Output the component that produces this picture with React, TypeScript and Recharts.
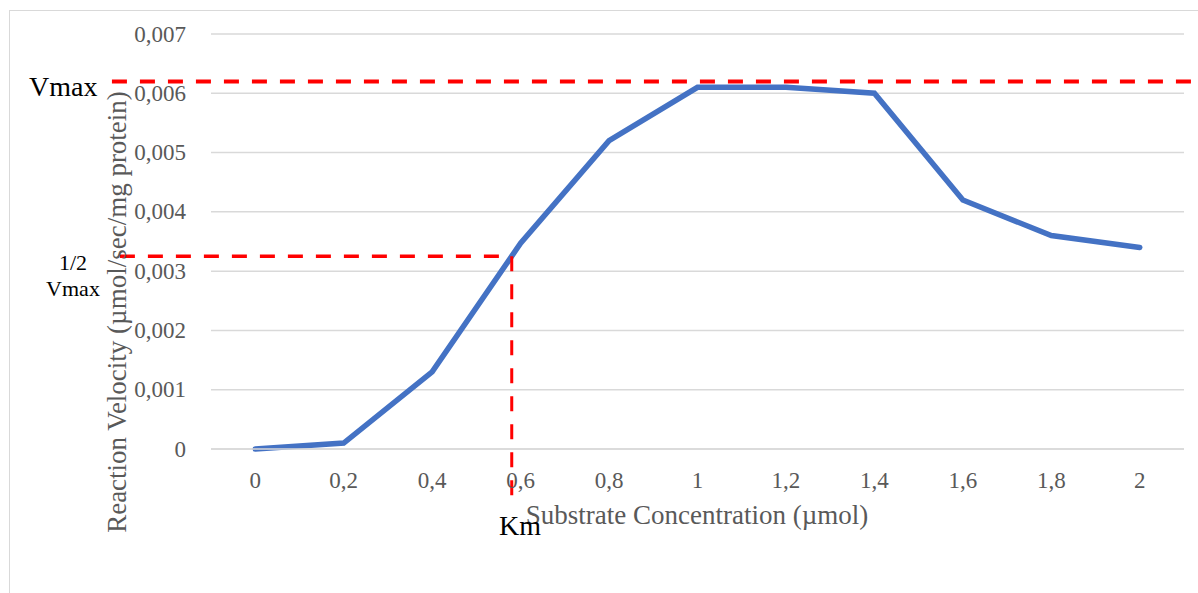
import React from 'react';
import { LineChart, Line, XAxis, YAxis, CartesianGrid, ReferenceLine } from 'recharts';

const concentrations = [0, 0.2, 0.4, 0.6, 0.8, 1, 1.2, 1.4, 1.6, 1.8, 2];
const velocities = [0, 0.0001, 0.0013, 0.00347, 0.0052, 0.0061, 0.0061, 0.006, 0.0042, 0.0036, 0.0034];
const yTicks = [0, 0.001, 0.002, 0.003, 0.004, 0.005, 0.006, 0.007];

// annotation values
const vmax = 0.0062;
const halfVmax = 0.00325;
const km = 0.58;

const data = concentrations.map((x, i) => ({ x, v: velocities[i] }));

const fmt = (n: number) => String(n).replace('.', ',');

const serif = '"Liberation Serif", "Times New Roman", serif';

const XTick = (props: any) => {
  const { x, y, payload } = props;
  return (
    <text x={x} y={y + 29} textAnchor="middle" dominantBaseline="central"
      style={{ fontFamily: serif, fontSize: 23, fill: '#595959' }}>
      {fmt(payload.value)}
    </text>
  );
};

const YTick = (props: any) => {
  const { x, y, payload } = props;
  return (
    <text x={x - 23} y={y} textAnchor="end" dominantBaseline="central"
      style={{ fontFamily: serif, fontSize: 23, fill: '#595959' }}>
      {fmt(payload.value)}
    </text>
  );
};

export default function App() {
  return (
    <div style={{ position: 'absolute', left: 0, top: 0, width: 1198, height: 593, background: '#fff', overflow: 'hidden' }}>
      <div
        style={{
          position: 'absolute', left: 9, top: 10, width: 1300, height: 700,
          borderLeft: '1px solid #d9d9d9', borderTop: '1px solid #d9d9d9',
        }}
      />
      <div style={{ position: 'absolute', left: 0, top: 0 }}>
        <LineChart width={1198} height={593} data={data} margin={{ top: 34, right: 14, left: 131, bottom: 114 }}>
          <CartesianGrid vertical={false} stroke="#d9d9d9" strokeWidth={1.5} />
          <XAxis
            dataKey="x"
            type="number"
            domain={[-0.1, 2.1]}
            ticks={concentrations}
            axisLine={{ stroke: '#d9d9d9', strokeWidth: 1.5 }}
            tickLine={false}
            tickSize={0}
            height={30}
            tick={<XTick />}
          />
          <YAxis
            domain={[0, 0.007]}
            ticks={yTicks}
            axisLine={false}
            tickLine={false}
            tickSize={0}
            width={80}
            tick={<YTick />}
          />
          <Line
            type="linear"
            dataKey="v"
            stroke="#4472C4"
            strokeWidth={5.5}
            dot={false}
            strokeLinecap="round"
            isAnimationActive={false}
          />
          <ReferenceLine
            segment={[{ x: -0.324, y: vmax }, { x: 2.14, y: vmax }]}
            stroke="#ff0000"
            strokeWidth={4}
            strokeDasharray="15 13"
            ifOverflow="visible"
          />
          <ReferenceLine
            segment={[{ x: -0.306, y: halfVmax }, { x: km, y: halfVmax }]}
            stroke="#ff0000"
            strokeWidth={3.5}
            strokeDasharray="15 13"
            ifOverflow="visible"
          />
          <ReferenceLine
            segment={[{ x: km, y: halfVmax }, { x: km, y: -0.001 }]}
            stroke="#ff0000"
            strokeWidth={3}
            strokeDasharray="15 13"
            ifOverflow="visible"
          />
        </LineChart>
      </div>
      <div
        style={{
          position: 'absolute', left: 117, top: 312, fontFamily: serif, fontSize: 27, color: '#595959',
          transform: 'translate(-50%, -50%) rotate(-90deg)', whiteSpace: 'nowrap', lineHeight: 1,
        }}
      >
        Reaction Velocity (µmol/sec/mg protein)
      </div>
      <div
        style={{
          position: 'absolute', left: 697, top: 502, fontFamily: serif, fontSize: 27, color: '#595959',
          transform: 'translateX(-50%)', whiteSpace: 'nowrap', lineHeight: 1,
        }}
      >
        Substrate Concentration (µmol)
      </div>
      <div style={{ position: 'absolute', left: 29, top: 73, fontFamily: serif, fontSize: 28, color: '#000', lineHeight: 1 }}>
        Vmax
      </div>
      <div
        style={{
          position: 'absolute', left: 73, top: 250, fontFamily: serif, fontSize: 22, color: '#000',
          lineHeight: '26px', textAlign: 'center', transform: 'translateX(-50%)', whiteSpace: 'nowrap',
        }}
      >
        1/2<br />Vmax
      </div>
      <div style={{ position: 'absolute', left: 499, top: 512, fontFamily: serif, fontSize: 28, color: '#000', lineHeight: 1 }}>
        Km
      </div>
    </div>
  );
}
